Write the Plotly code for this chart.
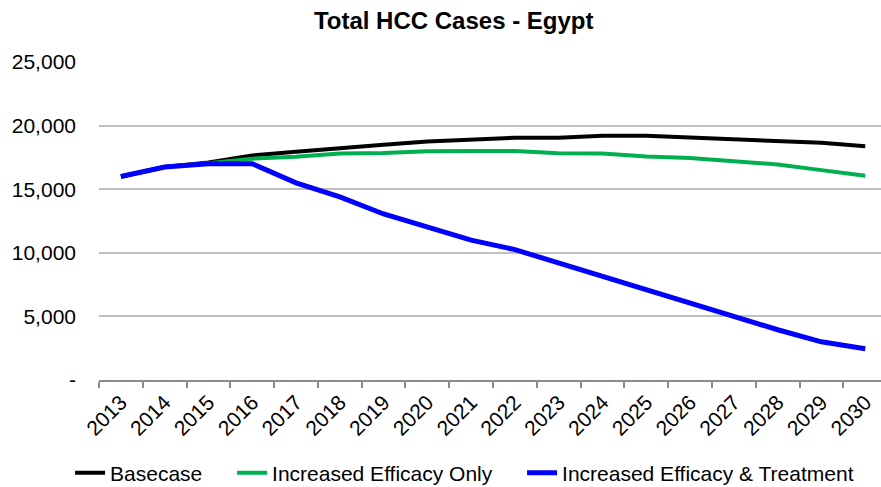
import plotly.graph_objects as go

# Projected total HCC cases in Egypt under three scenarios
years = [str(y) for y in range(2013, 2031)]

basecase = [16000, 16750, 17100, 17650, 17950, 18250, 18500, 18750, 18900, 19050,
            19050, 19200, 19200, 19050, 18920, 18790, 18650, 18380]
efficacy_only = [16000, 16750, 17050, 17400, 17550, 17800, 17850, 17980, 18000, 18000,
                 17820, 17800, 17580, 17450, 17200, 16950, 16500, 16050]
efficacy_treatment = [16000, 16750, 17000, 17000, 15500, 14400, 13050, 12030, 11000, 10250,
                      9200, 8250, 7200, 6150, 5100, 3950, 3000, 2450]

y_ticks = [0, 5000, 10000, 15000, 20000, 25000]
y_tick_text = ["-", "5,000", "10,000", "15,000", "20,000", "25,000"]

FONT = "Liberation Sans, Arial, sans-serif"

fig = go.Figure()
fig.add_trace(go.Scatter(x=years, y=basecase, mode="lines", name="Basecase",
                         legendwidth=117,
                         line=dict(color="#000000", width=4)))
fig.add_trace(go.Scatter(x=years, y=efficacy_only, mode="lines", name="Increased Efficacy Only",
                         legendwidth=245,
                         line=dict(color="#00b050", width=4)))
fig.add_trace(go.Scatter(x=years, y=efficacy_treatment, mode="lines",
                         name="Increased Efficacy & Treatment",
                         line=dict(color="#0000ff", width=5)))

fig.update_layout(
    width=881, height=487,
    margin=dict(l=99, r=0, t=62, b=107, autoexpand=False),
    paper_bgcolor="white", plot_bgcolor="white",
    font=dict(family=FONT, size=21, color="#000000"),
    title=dict(text="<b>Total HCC Cases - Egypt</b>", x=0.515, xref="container",
               xanchor="center", y=0.958, yref="container", yanchor="middle",
               font=dict(family=FONT, size=24, color="#000000")),
    showlegend=True,
    legend=dict(orientation="h", x=-0.037, xanchor="left",
                y=-0.293, yanchor="middle",
                font=dict(family=FONT, size=21), traceorder="normal",
                bgcolor="rgba(0,0,0,0)"),
)

fig.update_xaxes(
    type="category", range=[-0.5, 17.36], tickangle=-45,
    tickson="boundaries", ticks="outside", ticklen=6, tickwidth=1.5, tickcolor="#8c8c8c",
    showline=True, linecolor="#8c8c8c", linewidth=1.5, showgrid=False,
    tickfont=dict(family=FONT, size=21),
)
fig.update_yaxes(
    range=[0, 25000], tickvals=y_ticks, ticktext=y_tick_text,
    showline=False, showgrid=True, gridcolor="#c0c0c0", gridwidth=1.5,
    zeroline=False, ticks="", ticklabelstandoff=22,
    tickfont=dict(family=FONT, size=21),
)

fig.write_html("out.html")
